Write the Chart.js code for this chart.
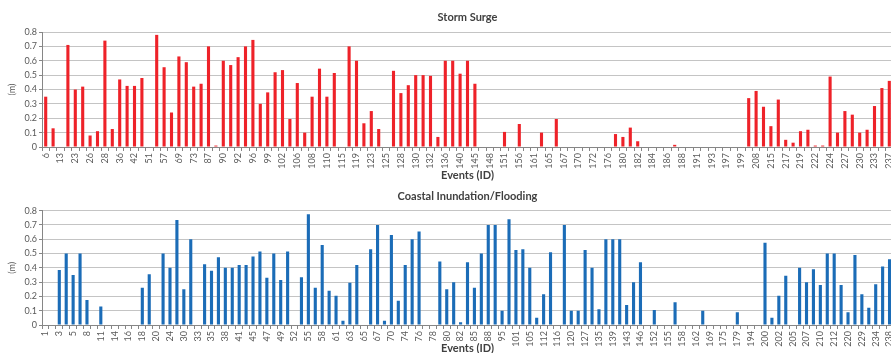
<!DOCTYPE html>
<html>
<head>
<meta charset="utf-8">
<script src="https://cdn.jsdelivr.net/npm/chart.js@4.4.1/dist/chart.umd.min.js"></script>
<style>
  html, body { margin: 0; padding: 0; background: #fff; overflow: hidden; width: 891px; height: 353px; }
  .box { position: absolute; left: 0; width: 893px; }
</style>
</head>
<body>
<div class="box" style="top:0;height:182px"><canvas id="surge" width="893" height="182"></canvas></div>
<div class="box" style="top:178px;height:177px"><canvas id="flood" width="893" height="177"></canvas></div>
<script>
// Storm surge events (every other ID is labelled on the axis)
const surgeIds = ['6','8','13','20','23','25','26','27','28','33','36','40','42','48','51','55','57','63','69','70',
  '73','80','87','88','90','91','92','95','96','97','99','101','102','105','106','107','108','109','110','112',
  '115','117','119','120','123','124','125','127','128','129','130','131','132','134','136','138','140','143','145','147',
  '148','150','151','153','156','158','161','163','165','166','167','168','170','171','172','174','176','178','180','181',
  '182','183','184','185','186','187','188','190','191','192','193','195','197','198','199','200','208','212','215','216',
  '217','218','219','221','222','223','224','226','227','229','230','231','233','235','237'];
const surgeHeight = [0.35,0.13,0,0.71,0.40,0.42,0.08,0.11,0.74,0.125,0.47,0.425,0.425,0.48,0,0.78,0.555,0.24,0.63,0.59,
  0.42,0.44,0.70,0.01,0.60,0.57,0.625,0.70,0.745,0.30,0.38,0.52,0.535,0.195,0.445,0.10,0.35,0.545,0.35,0.515,
  0,0.70,0.60,0.165,0.25,0.125,0,0.53,0.375,0.43,0.50,0.50,0.495,0.07,0.60,0.60,0.51,0.60,0.44,0,
  0,0,0.105,0,0.16,0,0,0.10,0,0.195,0,0,0,0,0,0,0,0.09,0.07,0.135,
  0.04,0,0,0,0,0.015,0,0,0,0,0,0,0,0,0,0.34,0.39,0.28,0.145,0.33,
  0.05,0.03,0.11,0.12,0.01,0.01,0.49,0.10,0.25,0.225,0.10,0.12,0.285,0.41,0.46];

// Coastal inundation / flooding events
const floodIds = ['1','2','3','4','5','7','8','10','11','13','14','15','16','17','18','19','20','22','24','27',
  '30','31','33','34','35','36','38','40','41','43','45','46','47','48','49','50','52','53','55','56',
  '58','60','61','62','63','64','65','66','67','68','70','72','74','75','76','77','78','79','80','81',
  '82','83','85','87','88','90','95','98','101','103','105','108','112','114','116','118','120','125','127','130',
  '135','137','139','141','143','144','146','150','152','154','155','157','158','160','162','165','169','172','175','177',
  '179','185','194','198','200','201','202','204','205','206','207','209','210','211','212','215','220','225','229','231',
  '234','236','238'];
const floodDepth = [0,0,0.385,0.50,0.35,0.50,0.175,0,0.13,0,0,0,0,0,0.26,0.355,0,0.50,0.40,0.735,
  0.25,0.60,0,0.425,0.38,0.475,0.40,0.40,0.42,0.42,0.48,0.515,0.33,0.50,0.315,0.515,0,0.335,0.775,0.26,
  0.56,0.24,0.205,0.03,0.295,0.42,0,0.53,0.70,0.03,0.63,0.17,0.42,0.60,0.655,0,0,0.445,0.25,0.30,
  0.02,0.44,0.26,0.50,0.70,0.70,0.10,0.74,0.525,0.53,0.40,0.05,0.215,0.51,0,0.70,0.10,0.10,0.525,0.40,
  0.11,0.60,0.60,0.60,0.14,0.30,0.44,0,0.105,0,0,0.16,0,0,0,0.10,0,0,0,0,
  0.09,0,0,0,0.575,0.05,0.205,0.345,0,0.40,0.30,0.39,0.28,0.50,0.50,0.28,0.09,0.49,0.215,0.12,
  0.285,0.41,0.46];

const axisGrey = '#868686';
const textGrey = '#595959';

function makeChart(id, title, ids, values, colour, barPct, titlePad, xHeight) {
  const ctx = document.getElementById(id).getContext('2d');
  return new Chart(ctx, {
    type: 'bar',
    data: {
      labels: ids,
      datasets: [{
        data: values,
        backgroundColor: colour,
        borderWidth: 0,
        categoryPercentage: 1,
        barPercentage: barPct,
      }]
    },
    options: {
      responsive: false,
      animation: false,
      layout: { padding: 0 },
      plugins: {
        legend: { display: false },
        tooltip: { enabled: false },
        title: {
          display: true,
          text: title,
          fullSize: false,
          color: '#404040',
          font: { family: 'Lato', size: 11, weight: 'bold' },
          padding: titlePad,
        },
      },
      scales: {
        x: {
          offset: true,
          grid: { display: true, drawOnChartArea: false, drawTicks: true, tickLength: 4, color: axisGrey, offset: true },
          border: { display: true, color: axisGrey },
          ticks: {
            autoSkip: false,
            minRotation: 90,
            maxRotation: 90,
            padding: 2,
            color: textGrey,
            font: { family: 'Lato', size: 9 },
            callback: (v, i) => (i % 2 === 0 ? ids[i] : ''),
          },
          title: {
            display: true,
            text: 'Events (ID)',
            color: '#404040',
            font: { family: 'Lato', size: 11, weight: 'bold' },
            padding: { top: 0, bottom: 0 },
          },
          afterFit: (s) => { s.height = xHeight; s.paddingLeft = 0; s.paddingRight = 0; },
        },
        y: {
          min: 0,
          max: 0.8,
          ticks: {
            stepSize: 0.1,
            padding: 2,
            color: textGrey,
            font: { family: 'Lato', size: 9 },
            callback: (v) => (v === 0 ? '0' : Number(v).toFixed(1)),
          },
          grid: { color: '#c4c4c4', tickColor: axisGrey, tickLength: 3 },
          border: { display: true, color: axisGrey },
          title: {
            display: true,
            text: '(m)',
            color: textGrey,
            font: { family: 'Lato', size: 9 },
            padding: { top: 7, bottom: 0 },
          },
          afterFit: (s) => { s.width = 42; s.paddingTop = 0; s.paddingBottom = 0; },
        },
      },
    },
  });
}

makeChart('surge', 'Storm Surge', surgeIds, surgeHeight, '#ee2229', 0.42, { top: 10.9, bottom: 7.9 }, 35);
makeChart('flood', 'Coastal Inundation/Flooding', floodIds, floodDepth, '#1b6cb7', 0.45, { top: 11.4, bottom: 8.1 }, 30);
</script>
</body>
</html>
